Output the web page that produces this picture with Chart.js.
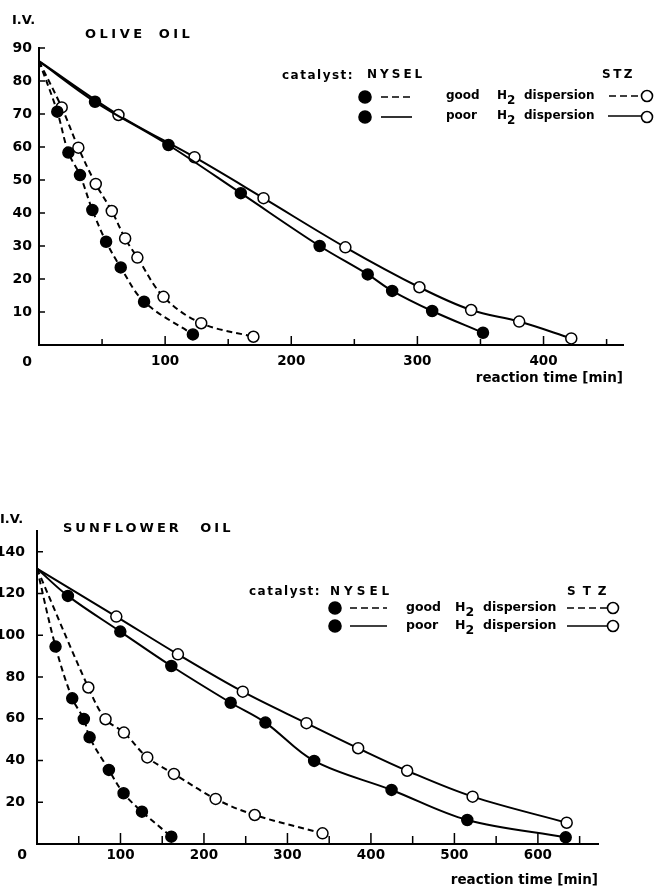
<!DOCTYPE html>
<html>
<head>
<meta charset="utf-8">
<script src="https://cdn.jsdelivr.net/npm/chart.js@4.4.0/dist/chart.umd.min.js"></script>
<style>
  body { margin: 0; background: #fff; }
  #page { position: relative; width: 654px; height: 889px; overflow: hidden; }
  .box { position: absolute; left: 0; width: 654px; }
  .t { position: absolute; font-family: 'DejaVu Sans', sans-serif; font-weight: bold; color: #000;
       white-space: nowrap; line-height: 1; transform: translateY(-50%); }
  .t sub { font-size: 1em; vertical-align: -0.45em; line-height: 0; }
  svg.keys { position: absolute; left: 0; top: 0; }
</style>
</head>
<body>
<div id="page">
  <div class="box" style="top:0;height:400px"><canvas id="olive" width="654" height="400"></canvas></div>
  <div class="box" style="top:480px;height:409px"><canvas id="sunflower" width="654" height="409"></canvas></div>

  <!-- olive oil labels -->
  <div class="t" style="left:12px;top:19px;font-size:13px">I.V.</div>
  <div class="t" style="left:85px;top:33px;font-size:13px;letter-spacing:3.5px;word-spacing:5px">OLIVE OIL</div>
  <div class="t" style="left:282px;top:75px;font-size:12px;letter-spacing:1.5px">catalyst:</div>
  <div class="t" style="left:367px;top:74px;font-size:12px;letter-spacing:3px">NYSEL</div>
  <div class="t" style="left:602px;top:74px;font-size:12px;letter-spacing:2.5px">STZ</div>
  <div class="t" style="left:446px;top:95px;font-size:12px">good</div>
  <div class="t" style="left:497px;top:95px;font-size:12px">H<sub>2</sub></div>
  <div class="t" style="left:524px;top:95px;font-size:12px">dispersion</div>
  <div class="t" style="left:446px;top:115px;font-size:12px">poor</div>
  <div class="t" style="left:497px;top:115px;font-size:12px">H<sub>2</sub></div>
  <div class="t" style="left:524px;top:115px;font-size:12px">dispersion</div>

  <!-- sunflower oil labels -->
  <div class="t" style="left:0px;top:518px;font-size:13px">I.V.</div>
  <div class="t" style="left:63px;top:527px;font-size:13px;letter-spacing:3px;word-spacing:11px">SUNFLOWER OIL</div>
  <div class="t" style="left:249px;top:591px;font-size:12px;letter-spacing:1.5px">catalyst:</div>
  <div class="t" style="left:330px;top:591px;font-size:12px;letter-spacing:4px">NYSEL</div>
  <div class="t" style="left:567px;top:591px;font-size:12px;letter-spacing:7px">STZ</div>
  <div class="t" style="left:406px;top:607px;font-size:12.5px">good</div>
  <div class="t" style="left:455px;top:607px;font-size:12.5px">H<sub>2</sub></div>
  <div class="t" style="left:483px;top:607px;font-size:12.5px">dispersion</div>
  <div class="t" style="left:406px;top:625px;font-size:12.5px">poor</div>
  <div class="t" style="left:455px;top:625px;font-size:12.5px">H<sub>2</sub></div>
  <div class="t" style="left:483px;top:625px;font-size:12.5px">dispersion</div>

  <!-- legend keys -->
  <svg class="keys" width="654" height="889">
    <g stroke="#000" stroke-width="1.6" fill="none">
      <circle cx="365" cy="97" r="6" fill="#000"/>
      <line x1="381" y1="97" x2="413" y2="97" stroke-dasharray="7,4"/>
      <line x1="609" y1="96" x2="641" y2="96" stroke-dasharray="7,4"/>
      <circle cx="647" cy="96" r="5.5" fill="#fff"/>
      <circle cx="365" cy="117" r="6" fill="#000"/>
      <line x1="381" y1="117" x2="412" y2="117"/>
      <line x1="608" y1="116" x2="641" y2="116"/>
      <circle cx="647" cy="117" r="5.5" fill="#fff"/>

      <circle cx="335" cy="608" r="6" fill="#000"/>
      <line x1="350" y1="608" x2="387" y2="608" stroke-dasharray="7,4"/>
      <line x1="567" y1="608" x2="607" y2="608" stroke-dasharray="7,4"/>
      <circle cx="613" cy="608" r="5.5" fill="#fff"/>
      <circle cx="335" cy="626" r="6" fill="#000"/>
      <line x1="350" y1="626" x2="387" y2="626"/>
      <line x1="567" y1="626" x2="607" y2="626"/>
      <circle cx="613" cy="626" r="5.5" fill="#fff"/>
    </g>
  </svg>
</div>

<script>
// olive oil: reaction time [min] and iodine value
const oliveNyselGoodT  = [0, 14.5, 23.3, 32.5, 42.3, 53.2, 64.8, 83.3, 122];
const oliveNyselGoodIV = [86, 70.7, 58.3, 51.5, 40.9, 31.3, 23.5, 13.1, 3.2];
const oliveStzGoodT    = [0, 18, 31.2, 45, 57.7, 68.3, 78, 98.7, 128.6, 170];
const oliveStzGoodIV   = [86, 72, 59.8, 48.8, 40.6, 32.3, 26.5, 14.6, 6.6, 2.5];
const oliveNyselPoorT  = [0, 44.4, 102.6, 160, 222.5, 260.6, 280, 311.7, 352];
const oliveNyselPoorIV = [86, 73.7, 60.6, 46, 30, 21.4, 16.4, 10.3, 3.7];
const oliveStzPoorT    = [0, 63, 123.3, 178, 242.9, 301.6, 342.6, 380.7, 422];
const oliveStzPoorIV   = [86, 69.7, 56.9, 44.5, 29.6, 17.5, 10.6, 7.1, 2];

// sunflower oil
const sunNyselGoodT  = [0, 22.2, 42.2, 56.1, 63, 86.1, 103.7, 125.7, 160.9];
const sunNyselGoodIV = [132, 94.6, 69.8, 59.9, 51.1, 35.5, 24.3, 15.5, 3.5];
const sunStzGoodT    = [0, 61.5, 82.1, 104.1, 132.1, 164, 214, 260.8, 342];
const sunStzGoodIV   = [132, 75, 59.8, 53.4, 41.5, 33.6, 21.6, 13.9, 5.1];
const sunNyselPoorT  = [0, 37, 99.8, 160.9, 232, 273.6, 332, 424.7, 515.4, 633.3];
const sunNyselPoorIV = [132, 118.9, 101.8, 85.3, 67.7, 58.2, 39.8, 25.9, 11.5, 3.2];
const sunStzPoorT    = [0, 95, 168.8, 246.5, 322.8, 384.7, 443.4, 521.8, 634.5];
const sunStzPoorIV   = [132, 109, 90.9, 73, 57.9, 45.9, 35.1, 22.7, 10.2];

Chart.defaults.font.family = 'DejaVu Sans';
Chart.defaults.font.size = 13;
Chart.defaults.font.weight = 'bold';
Chart.defaults.color = '#000';

function series(t, iv, filled, dashed) {
  return {
    data: t.map((x, i) => ({ x: x, y: iv[i] })),
    borderColor: '#000',
    borderWidth: 2,
    borderDash: dashed ? [6, 4] : [],
    pointBackgroundColor: filled ? '#000' : '#fff',
    pointBorderColor: '#000',
    pointBorderWidth: 1.5,
    pointRadius: c => c.dataIndex === 0 ? 0 : 5.5,
    tension: 0.35,
    clip: false
  };
}

// short tick marks pointing into the plot, plus the shared "0" at the origin
const innerTicks = {
  id: 'innerTicks',
  afterDraw(chart, args, opts) {
    const ctx = chart.ctx, xs = chart.scales.x, ys = chart.scales.y;
    ctx.save();
    ctx.strokeStyle = '#000';
    ctx.lineWidth = 1.5;
    ctx.beginPath();
    xs.ticks.forEach(t => {
      if (t.value === 0) return;
      const px = xs.getPixelForValue(t.value);
      ctx.moveTo(px, xs.top);
      ctx.lineTo(px, xs.top - (t.value % 100 === 0 ? opts.major : opts.minor));
    });
    ys.ticks.forEach(t => {
      if (t.value === 0) return;
      const py = ys.getPixelForValue(t.value);
      ctx.moveTo(ys.right, py);
      ctx.lineTo(ys.right + 6, py);
    });
    ctx.stroke();
    ctx.fillStyle = '#000';
    ctx.font = 'bold 14px "DejaVu Sans"';
    ctx.textAlign = 'center';
    ctx.textBaseline = 'middle';
    ctx.fillText('0', opts.zeroX, opts.zeroY);
    ctx.restore();
  }
};

function makeChart(id, datasets, o) {
  return new Chart(document.getElementById(id), {
    type: 'line',
    data: { datasets: datasets },
    options: {
      responsive: false,
      animation: false,
      devicePixelRatio: 1,
      layout: { padding: { left: 0, right: o.right, top: o.top, bottom: 0 } },
      plugins: {
        legend: { display: false },
        tooltip: { enabled: false },
        innerTicks: { zeroX: o.zeroX, zeroY: o.zeroY, major: o.major, minor: o.minor }
      },
      scales: {
        x: {
          type: 'linear', min: 0, max: o.xMax,
          afterFit: s => { s.height = o.xH; },
          border: { color: '#000', width: 2 },
          grid: { display: false, drawTicks: false },
          ticks: {
            stepSize: 50, includeBounds: false, padding: o.xPad, maxRotation: 0, autoSkip: false,
            font: { size: 13.5 },
            callback: v => (v % 100 === 0 && v > 0) ? v : ''
          },
          title: {
            display: true, text: 'reaction time [min]', align: 'end',
            font: { size: 13.5, weight: 'bold' }, padding: { top: 0, bottom: o.titlePad }
          }
        },
        y: {
          min: 0, max: o.yMax,
          afterFit: s => { s.width = o.yW; },
          border: { color: '#000', width: 2 },
          grid: { display: false, drawTicks: false },
          ticks: {
            stepSize: o.yStep, includeBounds: false, padding: o.yPad,
            font: { size: 14 },
            callback: v => v === 0 ? '' : v
          }
        }
      }
    },
    plugins: [innerTicks]
  });
}

makeChart('olive', [
  series(oliveNyselGoodT, oliveNyselGoodIV, true, true),
  series(oliveStzGoodT, oliveStzGoodIV, false, true),
  series(oliveNyselPoorT, oliveNyselPoorIV, true, false),
  series(oliveStzPoorT, oliveStzPoorIV, false, false)
], { right: 31, top: 48, xMax: 463, xH: 55, xPad: 8, titlePad: 13, yMax: 90, yStep: 10, yW: 39, yPad: 7,
     zeroX: 27, zeroY: 362, major: 9, minor: 6 });

makeChart('sunflower', [
  series(sunNyselGoodT, sunNyselGoodIV, true, true),
  series(sunStzGoodT, sunStzGoodIV, false, true),
  series(sunNyselPoorT, sunNyselPoorIV, true, false),
  series(sunStzPoorT, sunStzPoorIV, false, false)
], { right: 56, top: 51, xMax: 672, xH: 45, xPad: 3, titlePad: 0, yMax: 150, yStep: 20, yW: 37, yPad: 12,
     zeroX: 22, zeroY: 375, major: 11, minor: 8 });
</script>
</body>
</html>
